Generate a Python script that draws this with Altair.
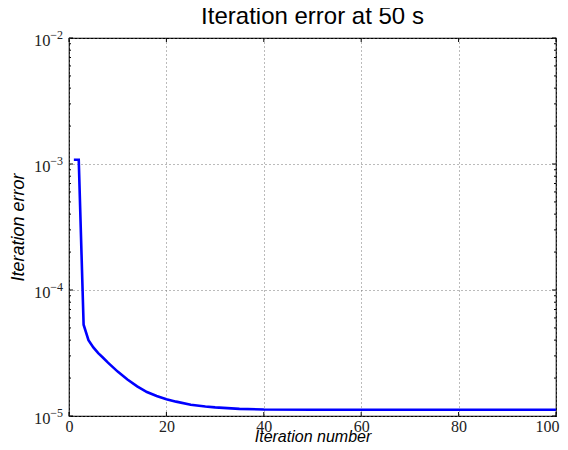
import altair as alt
import pandas as pd

# Data
iterations = [1, 2, 3, 4, 5, 6, 7, 8, 10, 12, 14, 16, 18, 20, 22, 25, 28, 30, 35, 40, 50, 60, 70, 80, 90, 100]
errors = [1.08e-3, 1.08e-3, 5.3e-5, 4.0e-5, 3.5e-5, 3.15e-5, 2.9e-5, 2.65e-5, 2.25e-5, 1.95e-5,
          1.72e-5, 1.55e-5, 1.44e-5, 1.36e-5, 1.30e-5, 1.23e-5, 1.19e-5, 1.17e-5, 1.14e-5, 1.125e-5,
          1.12e-5, 1.12e-5, 1.12e-5, 1.12e-5, 1.12e-5, 1.12e-5]
x_major = [0, 20, 40, 60, 80, 100]
y_major = [1e-5, 1e-4, 1e-3, 1e-2]
y_exponents = ["−5", "−4", "−3", "−2"]
y_minor = [m * d for d in [1e-5, 1e-4, 1e-3] for m in [2, 3, 4, 5, 6, 7, 8, 9]]

W, H = 487, 378

df = pd.DataFrame({"x": iterations, "err": errors})
xs = alt.Scale(domain=[0, 100], nice=False, zero=False)
ys = alt.Scale(type="log", domain=[1e-5, 1e-2], nice=False)

x_axis = alt.Axis(
    values=x_major, tickSize=0, domain=False, grid=True, gridColor="#777",
    gridDash=[1, 3], gridWidth=1, labelFont="Liberation Serif", labelFontSize=16,
    labelColor="#222", labelPadding=2, labelFlush=False,
    labelOffset={"condition": {"test": "datum.value == 100", "value": -9}, "value": 0},
    title="Iteration number",
    titleFont="Liberation Sans", titleFontStyle="italic", titleFontWeight="normal",
    titleFontSize=16, titleColor="#000", titleBaseline="alphabetic", titleY=25)
y_axis = alt.Axis(
    values=y_major, tickSize=0, domain=False, grid=True, gridColor="#777",
    gridDash=[1, 3], gridWidth=1, labelFont="Liberation Serif", labelFontSize=16.5,
    labelColor="#222", labelPadding=19, labelExpr="'10'", labelFlush=False,
    labelBaseline="middle", labelOffset=2,
    title="Iteration error", titleFont="Liberation Sans", titleFontStyle="italic",
    titleFontWeight="normal", titleFontSize=18, titleColor="#000", titlePadding=6)

line = alt.Chart(df).mark_line(color="#0000ff", strokeWidth=2.6, clip=True).encode(
    x=alt.X("x:Q", scale=xs, axis=x_axis),
    y=alt.Y("err:Q", scale=ys, axis=y_axis),
)

xmaj = pd.DataFrame({"x": x_major})
ymaj = pd.DataFrame({"err": y_major, "exp": y_exponents})
ymin = pd.DataFrame({"err": y_minor})

def xticks(y0, y1):
    return alt.Chart(xmaj).mark_rule(color="#000", strokeWidth=1).encode(
        x=alt.X("x:Q", scale=xs, axis=x_axis), y=alt.value(y0), y2=alt.value(y1))

def yticks(data, x0, x1):
    return alt.Chart(data).mark_rule(color="#000", strokeWidth=1).encode(
        y=alt.Y("err:Q", scale=ys, axis=y_axis), x=alt.value(x0), x2=alt.value(x1))

exps = alt.Chart(ymaj).mark_text(
    font="Liberation Serif", fontSize=12, color="#222", align="right",
    baseline="middle", dy=-3.5).encode(
    y=alt.Y("err:Q", scale=ys, axis=y_axis), x=alt.value(-6), text="exp:N")

chart = alt.layer(
    line,
    xticks(0, 4), xticks(H - 4, H),
    yticks(ymaj, 0, 4), yticks(ymaj, W - 4, W),
    yticks(ymin, 0, 2), yticks(ymin, W - 2, W),
    exps,
).properties(
    width=W, height=H,
    title=alt.TitleParams("Iteration error at 50 s", font="Liberation Sans", fontSize=24,
                          fontWeight="normal", color="#000", anchor="middle", offset=0),
    autosize=alt.AutoSizeParams(type="none"),
    padding={"left": 61, "top": 30, "right": 4, "bottom": 26},
    background="white",
).configure_view(stroke="#000", strokeWidth=1.2)

chart.save("out.html", embed_options={"renderer": "svg", "actions": False})
